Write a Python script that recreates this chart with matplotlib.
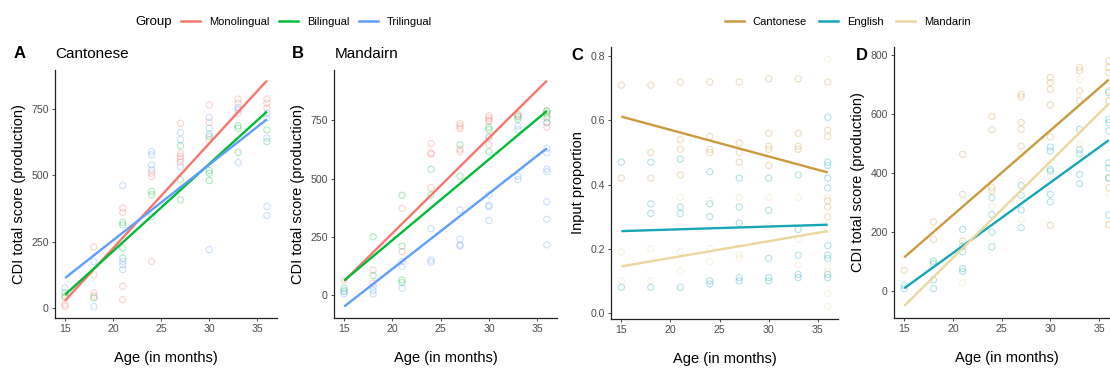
import numpy as np
import matplotlib
matplotlib.use("Agg")
import matplotlib.pyplot as plt
from matplotlib.lines import Line2D

plt.rcParams['font.family'] = ['Liberation Sans', 'DejaVu Sans']

# ages at which children were tested
ages_fit = [15, 36]

# Panel A: Cantonese CDI score by group (age -> scores)
a_mono = {15: [38, 13, 6], 18: [230, 125, 57, 45], 21: [377, 360, 82, 31], 24: [509, 496, 176],
          27: [697, 584, 572, 562, 550], 30: [766, 700, 634], 33: [788, 773, 735], 36: [788, 773, 754]}
a_bi = {15: [57, 44], 18: [38], 21: [323, 314, 226, 188], 24: [440, 427], 27: [612, 484, 408],
        30: [647, 519, 509, 481], 33: [687, 678, 587], 36: [672, 628]}
a_tri = {15: [75], 18: [175, 5], 21: [462, 176, 163, 145], 24: [590, 578, 540, 521, 345],
         27: [662, 635, 534], 30: [719, 678, 657, 220], 33: [756, 747, 549], 36: [735, 716, 641, 383, 349]}
a_fit = {'Monolingual': [28, 858], 'Bilingual': [50, 741], 'Trilingual': [113, 712]}

# Panel B: Mandarin CDI score by group
b_mono = {15: [64], 18: [107, 50], 21: [372, 186], 24: [650, 610, 605, 461], 27: [735, 725, 715, 625, 615],
          30: [770, 760, 750, 745, 680, 645], 33: [775, 770], 36: [790, 770, 740, 720]}
b_bi = {15: [29, 14], 18: [250, 83], 21: [428, 210, 64, 53], 24: [540, 430], 27: [645, 510],
        30: [720, 710, 615], 33: [765, 755], 36: [790, 780, 760]}
b_tri = {15: [19, 4], 18: [36, 19, 4], 21: [143, 122, 29], 24: [285, 150, 140], 27: [365, 240, 215, 210],
         30: [675, 430, 385, 380, 320], 33: [725, 710, 510, 495], 36: [740, 630, 610, 540, 530, 400, 325, 215]}
b_fit = {'Monolingual': [60, 920], 'Bilingual': [62, 790], 'Trilingual': [-50, 630]}

# Panel C: input proportion by language
c_can = {15: [0.71, 0.42], 18: [0.71, 0.50, 0.42], 21: [0.72, 0.54, 0.51, 0.43], 24: [0.72, 0.55, 0.51, 0.50],
         27: [0.72, 0.53, 0.50, 0.47], 30: [0.73, 0.56, 0.52, 0.51, 0.46], 33: [0.73, 0.56, 0.52, 0.51],
         36: [0.72, 0.57, 0.55, 0.35, 0.33, 0.30]}
c_eng = {15: [0.47, 0.08], 18: [0.47, 0.34, 0.31, 0.08], 21: [0.48, 0.33, 0.31, 0.08],
         24: [0.44, 0.34, 0.30, 0.10, 0.09], 27: [0.42, 0.33, 0.28, 0.11, 0.10], 30: [0.42, 0.32, 0.17, 0.11, 0.10],
         33: [0.43, 0.26, 0.18, 0.12, 0.11], 36: [0.61, 0.47, 0.46, 0.42, 0.39, 0.21, 0.18, 0.17, 0.12, 0.11]}
c_man = {15: [0.19, 0.10], 18: [0.20, 0.10], 21: [0.36, 0.19, 0.13], 24: [0.35, 0.20, 0.16],
         27: [0.36, 0.18, 0.17], 30: [0.36, 0.27], 33: [0.36, 0.23, 0.15], 36: [0.79, 0.36, 0.26, 0.14, 0.13, 0.06, 0.02]}
c_fit = {'Cantonese': [0.612, 0.438], 'English': [0.255, 0.275], 'Mandarin': [0.145, 0.255]}

# Panel D: CDI score by language
d_can = {15: [69], 18: [234, 174], 21: [463, 327, 168], 24: [592, 547, 350, 339], 27: [667, 658, 571, 548, 491],
         30: [724, 707, 684, 631, 522, 222], 33: [758, 747, 679, 645], 36: [781, 758, 741, 679, 645, 383, 350, 225]}
d_eng = {15: [18, 7], 18: [100, 91, 37, 7], 21: [208, 151, 132, 75, 66], 24: [316, 259, 199, 149],
         27: [358, 323, 274, 214], 30: [488, 474, 412, 406, 327, 301], 33: [548, 479, 465, 395, 363],
         36: [673, 582, 571, 543, 434, 417, 383, 258]}
d_man = {21: [26], 24: [288], 27: [463, 372, 241], 30: [389], 33: [718, 496], 36: [713, 645, 327, 221]}
d_fit = {'Cantonese': [113, 717], 'English': [8, 511], 'Mandarin': [-52, 635]}

group_colors = {'Monolingual': '#F8766D', 'Bilingual': '#00BA38', 'Trilingual': '#619CFF'}
lang_colors = {'Cantonese': '#C99A3E', 'English': '#17A6B4', 'Mandarin': '#EAD8A0'}

W, H = 1110, 371
fig = plt.figure(figsize=(W / 100, H / 100), dpi=100)


def box(left, right, top, bottom):
    return [left / W, 1 - bottom / H, (right - left) / W, (bottom - top) / H]


def draw_panel(ax, series, fits, colors, ylim, yticks, ylabel):
    for name, pts in series.items():
        xs = [a for a, vals in pts.items() for v in vals]
        ys = [v for a, vals in pts.items() for v in vals]
        ax.scatter(xs, ys, s=20, facecolors='none', edgecolors=colors[name], linewidths=0.8, alpha=0.32, zorder=2)
    for name, ends in fits.items():
        ax.plot(ages_fit, ends, color=colors[name], lw=1.7, zorder=3, solid_capstyle='butt')
    ax.set_xlim(13.95, 37.05)
    ax.set_ylim(*ylim)
    ax.set_xticks([15, 20, 25, 30, 35])
    ax.set_yticks(yticks)
    for s in ['top', 'right']:
        ax.spines[s].set_visible(False)
    for s in ['left', 'bottom']:
        ax.spines[s].set_linewidth(0.9)
        ax.spines[s].set_color('#222222')
    ax.tick_params(length=2.5, width=0.6, color='#333333', labelsize=7.6, labelcolor='#4D4D4D', pad=2)
    ax.set_xlabel('Age (in months)', fontsize=10.5, labelpad=12)
    ax.set_ylabel(ylabel, fontsize=10.5, labelpad=4)


axA = fig.add_axes(box(55, 277, 70, 318))
draw_panel(axA, {'Monolingual': a_mono, 'Bilingual': a_bi, 'Trilingual': a_tri}, a_fit, group_colors,
           (-38, 898), [0, 250, 500, 750], 'CDI total score (production)')
axB = fig.add_axes(box(334, 557, 70, 318))
draw_panel(axB, {'Monolingual': b_mono, 'Bilingual': b_bi, 'Trilingual': b_tri}, b_fit, group_colors,
           (-99, 966), [0, 250, 500, 750], 'CDI total score (production)')
axC = fig.add_axes(box(611, 838, 47, 319))
draw_panel(axC, {'Cantonese': c_can, 'English': c_eng, 'Mandarin': c_man}, c_fit, lang_colors,
           (-0.019, 0.829), [0.0, 0.2, 0.4, 0.6, 0.8], 'Input proportion')
axD = fig.add_axes(box(894, 1119, 47, 318))
draw_panel(axD, {'Cantonese': d_can, 'English': d_eng, 'Mandarin': d_man}, d_fit, lang_colors,
           (-93, 828), [0, 200, 400, 600, 800], 'CDI total score (production)')

# panel letters and titles
fig.text(20 / W, 1 - 54 / H, 'A', fontsize=12, fontweight='bold', ha='center', va='center')
fig.text(55 / W, 1 - 54 / H, 'Cantonese', fontsize=11, ha='left', va='center')
fig.text(298 / W, 1 - 54 / H, 'B', fontsize=12, fontweight='bold', ha='center', va='center')
fig.text(335 / W, 1 - 54 / H, 'Mandairn', fontsize=11, ha='left', va='center')
fig.text(577 / W, 1 - 56 / H, 'C', fontsize=12, fontweight='bold', ha='center', va='center')
fig.text(862 / W, 1 - 56 / H, 'D', fontsize=12, fontweight='bold', ha='center', va='center')

# legends
fig.text(135 / W, 1 - 22 / H, 'Group', fontsize=9.5, ha='left', va='center')
g_handles = [Line2D([], [], color=c, lw=1.8) for c in group_colors.values()]
fig.legend(g_handles, list(group_colors.keys()), loc='center left', bbox_to_anchor=(181 / W, 1 - 22 / H),
           ncol=3, frameon=False, fontsize=8, handlelength=1.7, handletextpad=0.8, columnspacing=0.9,
           borderpad=0, borderaxespad=0)
l_handles = [Line2D([], [], color=c, lw=1.8) for c in lang_colors.values()]
fig.legend(l_handles, list(lang_colors.keys()), loc='center left', bbox_to_anchor=(725 / W, 1 - 22 / H),
           ncol=3, frameon=False, fontsize=8, handlelength=1.7, handletextpad=0.8, columnspacing=1.1,
           borderpad=0, borderaxespad=0)

fig.savefig('out.png', dpi=100)
